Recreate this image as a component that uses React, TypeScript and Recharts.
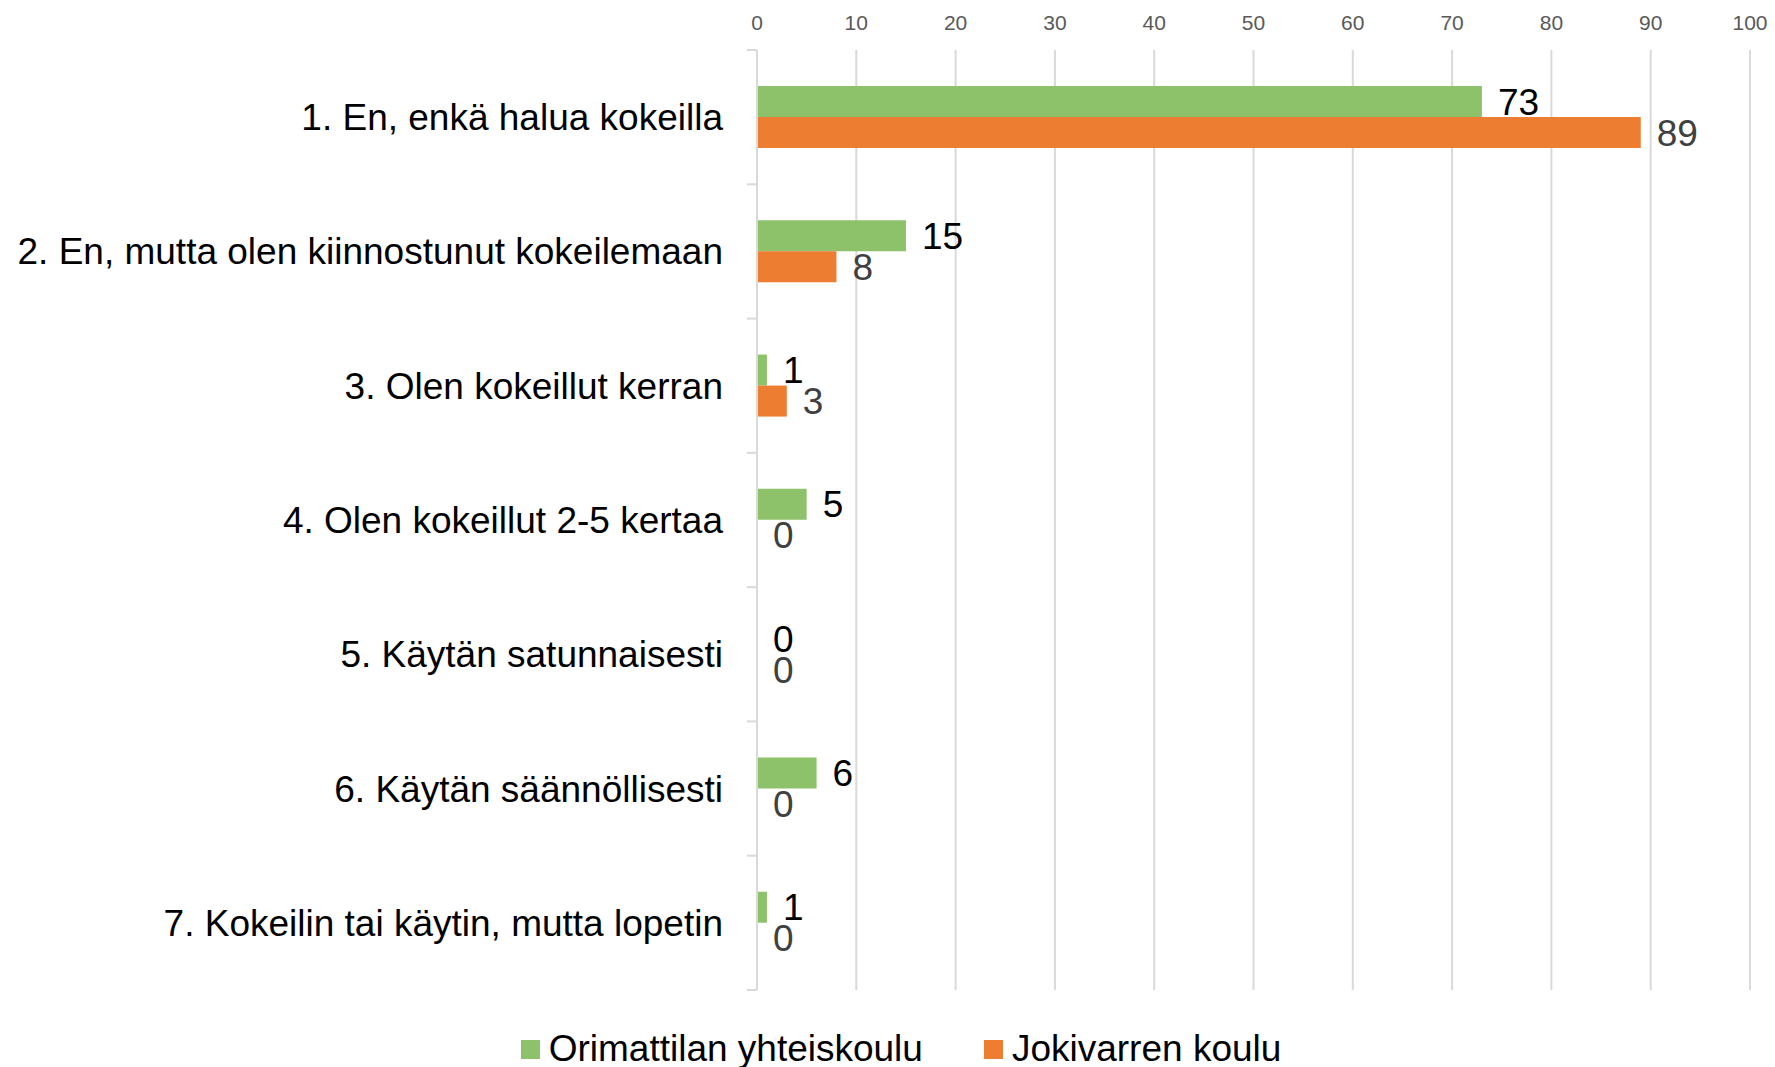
import { BarChart, Bar, XAxis, YAxis, CartesianGrid, Legend, LabelList } from 'recharts';

const categories = [
  '1. En, enkä halua kokeilla',
  '2. En, mutta olen kiinnostunut kokeilemaan',
  '3. Olen kokeillut kerran',
  '4. Olen kokeillut 2-5 kertaa',
  '5. Käytän satunnaisesti',
  '6. Käytän säännöllisesti',
  '7. Kokeilin tai käytin, mutta lopetin',
];
const orimattila = [73, 15, 1, 5, 0, 6, 1];
const jokivarsi = [89, 8, 3, 0, 0, 0, 0];
const xTicks = [0, 10, 20, 30, 40, 50, 60, 70, 80, 90, 100];

const GREEN = '#8DC16A';
const ORANGE = '#ED7D31';
const GRID = '#D9D9D9';
const FONT = '"Liberation Sans", Arial, sans-serif';

const data = categories.map((name, i) => ({
  name,
  orimattila: orimattila[i],
  jokivarsi: jokivarsi[i],
}));

const CategoryTick = (props: any) => {
  const { y, payload, index, visibleTicksCount } = props;
  const half = payload.offset || 67;
  const axisX = 757;
  return (
    <g>
      <line x1={axisX - 10} x2={axisX} y1={y - half} y2={y - half} stroke={GRID} strokeWidth={2} />
      {index === visibleTicksCount - 1 && (
        <line x1={axisX - 10} x2={axisX} y1={y + half} y2={y + half} stroke={GRID} strokeWidth={2} />
      )}
      <text x={723} y={y} dy={13} textAnchor="end" fontSize={37} fill="#000" fontFamily={FONT}>
        {payload.value}
      </text>
    </g>
  );
};

const LegendContent = () => (
  <div style={{ height: 77, position: 'relative', fontFamily: FONT }}>
    <div
      style={{
        position: 'absolute',
        top: 39,
        left: 0,
        right: 0,
        height: 40,
        lineHeight: '40px',
        display: 'flex',
        justifyContent: 'center',
        alignItems: 'center',
        paddingLeft: 52,
        fontSize: 37,
        color: '#000',
      }}
    >
      <span style={{ width: 19, height: 19, background: GREEN, marginRight: 9, display: 'inline-block' }} />
      <span>Orimattilan yhteiskoulu</span>
      <span style={{ width: 19, height: 19, background: ORANGE, marginLeft: 61, marginRight: 9, display: 'inline-block' }} />
      <span>Jokivarren koulu</span>
    </div>
  </div>
);

export default function App() {
  return (
    <div style={{ position: 'absolute', left: 0, top: 0, background: '#fff', fontFamily: FONT }}>
      <BarChart
        width={1775}
        height={1067}
        data={data}
        layout="vertical"
        margin={{ top: 20, right: 25, bottom: 0, left: 0 }}
        barGap={0}
      >
        <CartesianGrid horizontal={false} stroke={GRID} strokeWidth={2} />
        <XAxis
          type="number"
          orientation="top"
          domain={[0, 100]}
          ticks={xTicks}
          height={30}
          axisLine={false}
          tickLine={false}
          tickSize={0}
          tickMargin={20}
          tick={{ fill: '#595959', fontSize: 21, fontFamily: FONT }}
        />
        <YAxis
          type="category"
          dataKey="name"
          width={757}
          axisLine={{ stroke: GRID, strokeWidth: 2 }}
          tickLine={false}
          tick={<CategoryTick />}
        />
        <Legend verticalAlign="bottom" content={<LegendContent />} />
        <Bar dataKey="orimattila" fill={GREEN} barSize={31} minPointSize={0.01} isAnimationActive={false}>
          <LabelList dataKey="orimattila" position="right" offset={16} fill="#000" fontSize={37} fontFamily={FONT} />
        </Bar>
        <Bar dataKey="jokivarsi" fill={ORANGE} barSize={31} minPointSize={0.01} isAnimationActive={false}>
          <LabelList dataKey="jokivarsi" position="right" offset={16} fill="#404040" fontSize={37} fontFamily={FONT} />
        </Bar>
      </BarChart>
    </div>
  );
}
